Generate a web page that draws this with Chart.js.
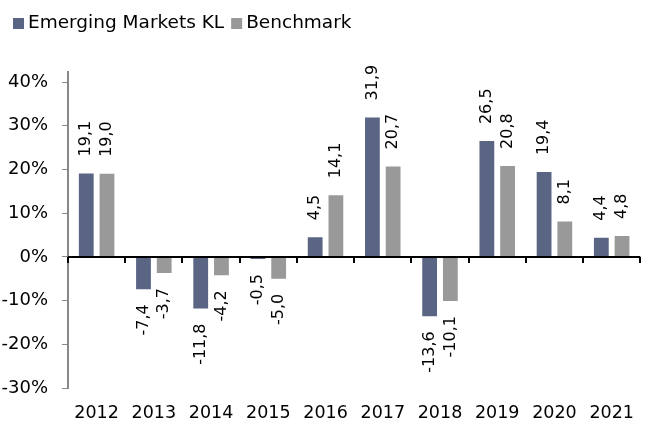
<!DOCTYPE html>
<html>
<head>
<meta charset="utf-8">
<script src="https://cdn.jsdelivr.net/npm/chart.js@4/dist/chart.umd.min.js"></script>
<style>
  html, body { margin: 0; padding: 0; background: #fff; }
  #wrap { width: 649px; height: 423px; }
</style>
</head>
<body>
<div id="wrap"><canvas id="chart"></canvas></div>
<script>
const years = ['2012', '2013', '2014', '2015', '2016', '2017', '2018', '2019', '2020', '2021'];
const emergingMarkets = [19.1, -7.4, -11.8, -0.5, 4.5, 31.9, -13.6, 26.5, 19.4, 4.4];
const benchmark = [19.0, -3.7, -4.2, -5.0, 14.1, 20.7, -10.1, 20.8, 8.1, 4.8];
const yTicks = [-30, -20, -10, 0, 10, 20, 30, 40];

const FONT = 'Verdana, "DejaVu Sans", sans-serif';

// legend drawn by hand, small square + label, packed tight like the original
const tightLegend = {
  id: 'tightLegend',
  afterDraw(chart) {
    const { ctx } = chart;
    ctx.save();
    ctx.font = '18.5px ' + FONT;
    ctx.textBaseline = 'middle';
    ctx.textAlign = 'left';
    let x = 13;
    const cy = 23;
    chart.data.datasets.forEach(ds => {
      ctx.fillStyle = ds.backgroundColor;
      ctx.fillRect(x, cy - 5, 11, 11);
      x += 15;
      ctx.fillStyle = '#000';
      ctx.fillText(ds.label, x, cy);
      x += ctx.measureText(ds.label).width + 7;
    });
    ctx.restore();
  }
};

// zero line with downward ticks at category boundaries
const zeroAxis = {
  id: 'zeroAxis',
  afterDatasetsDraw(chart) {
    const { ctx, scales: { x, y } } = chart;
    const y0 = y.getPixelForValue(0);
    const half = (x.getPixelForValue(1) - x.getPixelForValue(0)) / 2;
    ctx.save();
    ctx.strokeStyle = '#000';
    ctx.lineWidth = 2;
    ctx.beginPath();
    ctx.moveTo(x.left, y0);
    ctx.lineTo(x.right, y0);
    ctx.stroke();
    ctx.beginPath();
    for (let i = 0; i <= years.length; i++) {
      const px = Math.round(x.getPixelForValue(0) - half + i * 2 * half);
      ctx.moveTo(px, y0);
      ctx.lineTo(px, y0 + 6);
    }
    ctx.stroke();
    ctx.restore();
  }
};

// rotated value labels
const valueLabels = {
  id: 'valueLabels',
  afterDatasetsDraw(chart) {
    const { ctx } = chart;
    ctx.save();
    ctx.font = '16px ' + FONT;
    ctx.fillStyle = '#000';
    ctx.textBaseline = 'middle';
    chart.data.datasets.forEach((ds, di) => {
      chart.getDatasetMeta(di).data.forEach((bar, i) => {
        const v = ds.data[i];
        const txt = v.toFixed(1).replace('.', ',');
        ctx.save();
        ctx.translate(bar.x, v >= 0 ? bar.y - 17 : bar.y + 15);
        ctx.rotate(-Math.PI / 2);
        ctx.textAlign = v >= 0 ? 'left' : 'right';
        ctx.fillText(txt, 0, 0);
        ctx.restore();
      });
    });
    ctx.restore();
  }
};

new Chart(document.getElementById('chart'), {
  type: 'bar',
  data: {
    labels: years,
    datasets: [
      {
        label: 'Emerging Markets KL',
        data: emergingMarkets,
        backgroundColor: '#5a6584',
        categoryPercentage: 0.724,
        barPercentage: 0.714
      },
      {
        label: 'Benchmark',
        data: benchmark,
        backgroundColor: '#999999',
        categoryPercentage: 0.724,
        barPercentage: 0.714
      }
    ]
  },
  options: {
    responsive: true,
    maintainAspectRatio: false,
    animation: false,
    layout: { padding: { left: 0, right: 1, top: 72, bottom: 0 } },
    plugins: {
      legend: { display: false },
      tooltip: { enabled: false }
    },
    scales: {
      x: {
        afterFit(axis) { axis.height = 35; },
        grid: { display: false, drawTicks: false },
        border: { display: false },
        ticks: {
          color: '#000',
          padding: 15,
          maxRotation: 0,
          font: { family: FONT, size: 17.5 }
        }
      },
      y: {
        min: -30,
        max: 42.3,
        afterBuildTicks(axis) {
          axis.ticks = yTicks.map(v => ({ value: v }));
        },
        afterFit(axis) { axis.width = 68; },
        grid: {
          drawOnChartArea: false,
          drawTicks: true,
          tickLength: 6,
          color: '#888'
        },
        border: { display: true, color: '#888', width: 2 },
        ticks: {
          color: '#000',
          padding: 14,
          font: { family: FONT, size: 18 },
          callback: v => v + '%'
        }
      }
    }
  },
  plugins: [tightLegend, zeroAxis, valueLabels]
});
</script>
</body>
</html>
